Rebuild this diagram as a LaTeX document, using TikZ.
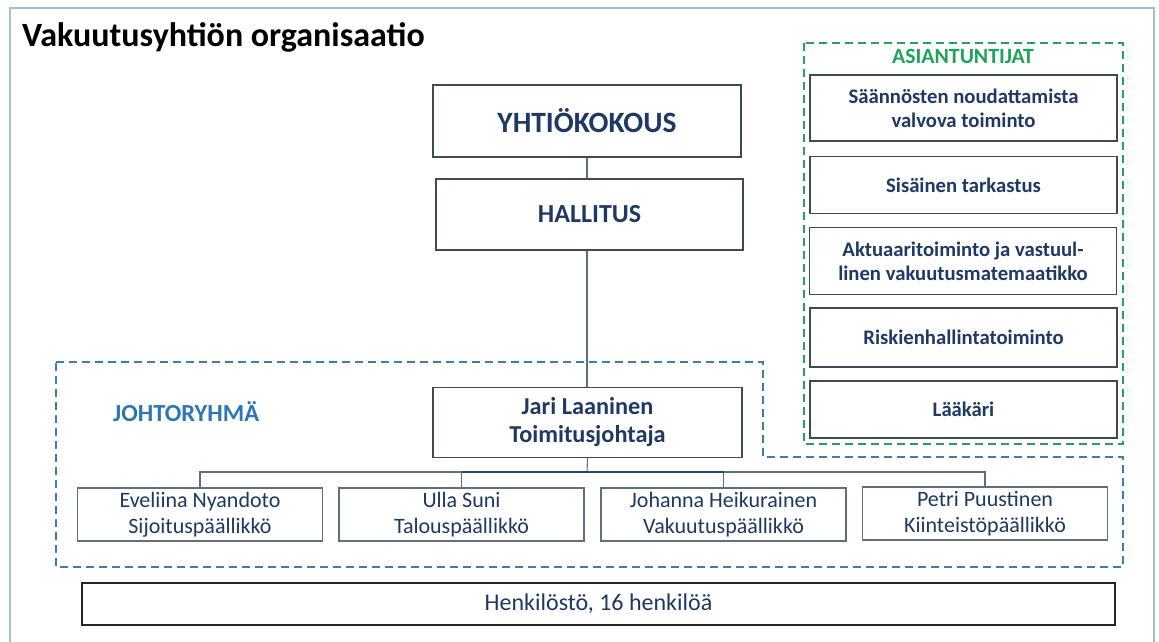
\documentclass[tikz,border=0pt]{standalone}
\usepackage{fontspec}
\setmainfont{Carlito}
\definecolor{navy}{HTML}{1F3864}
\definecolor{boxline}{HTML}{404A57}
\definecolor{connline}{HTML}{5F6F80}
\definecolor{frameblue}{HTML}{9CC2D4}
\definecolor{dashblue}{HTML}{3A7FAE}
\definecolor{dashgreen}{HTML}{2AA060}
\definecolor{titlegreen}{HTML}{1FA35A}
\definecolor{labelblue}{HTML}{2E75B6}
\tikzset{
  box/.style={draw=boxline, line width=1.1pt, fill=white, inner sep=0pt, align=center, text=navy},
  greenbox/.style={box, minimum width=307pt, font=\fontsize{20.7}{24}\selectfont\bfseries},
  personbox/.style={box, draw=connline, minimum width=245pt, minimum height=53pt, font=\fontsize{22}{26}\selectfont},
  conn/.style={draw=connline, line width=1.1pt},
  grpdash/.style={line width=1.8pt, dash pattern=on 8pt off 5pt},
}
\begin{document}
\begin{tikzpicture}[x=1pt,y=-1pt]
\useasboundingbox (0,0) rectangle (1159,642);
% outer frame (no bottom edge visible)
\draw[frameblue, line width=1.5pt] (10,650) -- (10,8) -- (1154,8) -- (1154,650);
\node[anchor=base west, font=\fontsize{34}{38}\selectfont\bfseries, inner sep=0pt] (title) at (22,47) {Vakuutusyhtiön organisaatio};

% groups
\draw[dashblue, grpdash] (56,362) -- (763,362) -- (763,457) -- (1123,457) -- (1123,567) -- (56,567) -- cycle;
\draw[dashgreen, grpdash] (804,43) rectangle (1123,444);
\node[text=titlegreen, font=\fontsize{21.8}{25}\selectfont\bfseries, inner sep=0pt] (asi) at (963,56) {ASIANTUNTIJAT};
\node[text=labelblue, font=\fontsize{24.5}{28}\selectfont\bfseries, inner sep=0pt, anchor=west] (jr) at (113,412) {JOHTORYHMÄ};

% main chain
\node[box, minimum width=308pt, minimum height=72pt, font=\fontsize{29.5}{34}\selectfont\bfseries] (yk) at (587,121) {YHTIÖKOKOUS};
\node[box, minimum width=307pt, minimum height=71pt, font=\fontsize{26}{30}\selectfont\bfseries] (hal) at (589.5,214.5) {HALLITUS};
\node[box, minimum width=309pt, minimum height=70pt, font=\fontsize{24.3}{28}\selectfont\bfseries] (jari) at (587.5,422.5) {Jari Laaninen\\Toimitusjohtaja};

% experts
\node[greenbox, minimum height=66pt] (g1) at (963.5,108) {Säännösten noudattamista\\valvova toiminto};
\node[greenbox, minimum height=57pt] (g2) at (963.5,185) {Sisäinen tarkastus};
\node[greenbox, minimum height=67pt] (g3) at (963,261) {Aktuaaritoiminto ja vastuul-\\linen vakuutusmatemaatikko};
\node[greenbox, minimum height=59pt] (g4) at (963.5,337.5) {Riskienhallintatoiminto};
\node[greenbox, minimum height=57pt] (g5) at (963.5,409.5) {Lääkäri};

% management team
\node[personbox] (ea) at (200,514.5) {Eveliina Nyandoto\\Sijoituspäällikkö};
\node[personbox] (us) at (461.5,514.5) {Ulla Suni\\Talouspäällikkö};
\node[personbox] (jh) at (723.5,514.5) {Johanna Heikurainen\\Vakuutuspäällikkö};
\node[personbox] (pp) at (985,513.5) {Petri Puustinen\\Kiinteistöpäällikkö};

% staff
\node[box, draw=black!85, minimum width=1033pt, minimum height=42pt, font=\fontsize{24}{28}\selectfont] (hk) at (598.5,604) {Henkilöstö, 16 henkilöä};

% connectors
\coordinate (bar) at (587,472);
\draw[conn] (yk.south) -- (hal.north -| yk.south);
\draw[conn] (hal.south -| yk.south) -- (jari.north -| yk.south);
\draw[conn] (jari.south) -- (bar);
\draw[conn] (ea.north) |- (bar) -| (pp.north);
\draw[conn] (us.north) -- (us.north |- bar);
\draw[conn] (jh.north) -- (jh.north |- bar);
\draw[draw=navy!80!connline, line width=1.8pt] (us.north |- bar) -- (jh.north |- bar);
\end{tikzpicture}
\end{document}
